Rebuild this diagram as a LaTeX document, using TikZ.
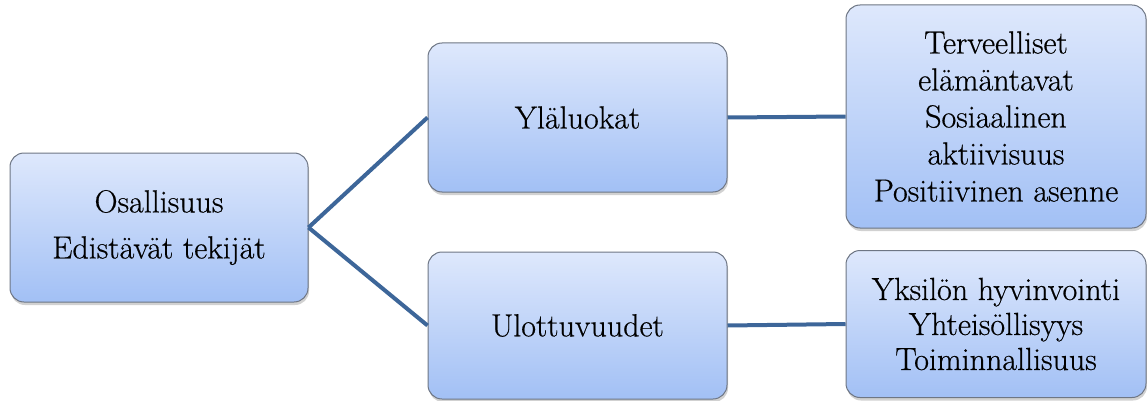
\documentclass[tikz,border=0pt]{standalone}
\usepackage{fontspec}
\setmainfont{Latin Modern Roman}[FakeBold=0.5]
\usetikzlibrary{shadows}
\definecolor{linkc}{HTML}{3D6699}
\definecolor{topc}{HTML}{DEE8FC}
\definecolor{botc}{HTML}{A2C0F5}
\definecolor{edgec}{HTML}{6E7684}
\tikzset{
  boxnode/.style={rectangle, rounded corners=14pt, draw=edgec, line width=1pt,
    top color=topc, bottom color=botc, align=center,
    font=\fontsize{32}{37}\selectfont, inner sep=0pt,
    drop shadow={shadow xshift=1pt, shadow yshift=-3pt, opacity=0.3, fill=black!60}},
  link/.style={draw=linkc, line width=4pt}
}
\begin{document}
\begin{tikzpicture}[x=1pt,y=-1pt]
\useasboundingbox (0,0) rectangle (1147,401);
\node[boxnode, minimum width=298pt, minimum height=149pt] (L) at (159,227.5)
  {Osallisuus\\[9pt]Edistävät tekijät};
\node[boxnode, minimum width=299pt, minimum height=149pt] (TM) at (577.5,117.5) {Yläluokat};
\node[boxnode, minimum width=299pt, minimum height=147pt] (BM) at (577.5,325.5) {Ulottuvuudet};
\node[boxnode, minimum width=300pt, minimum height=223pt] (TR) at (996,116.5)
  {Terveelliset\\elämäntavat\\Sosiaalinen\\aktiivisuus\\Positiivinen asenne};
\node[boxnode, minimum width=300pt, minimum height=147pt] (BR) at (996,324)
  {Yksilön hyvinvointi\\[-2pt]Yhteisöllisyys\\[-2pt]Toiminnallisuus};
\draw[link] (L.east) -- (TM.west);
\draw[link] (L.east) -- (BM.west);
\draw[link] (TM.east) -- (TR.west);
\draw[link] (BM.east) -- (BR.west);
\end{tikzpicture}
\end{document}
